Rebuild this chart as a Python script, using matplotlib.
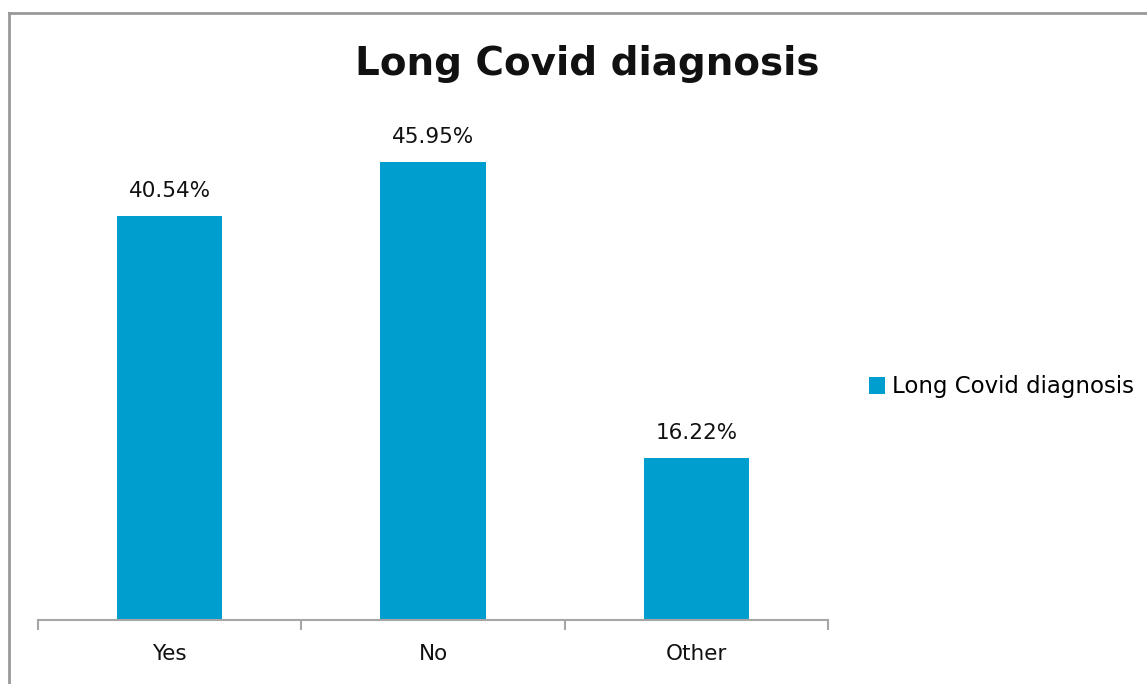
import matplotlib
matplotlib.use("Agg")
import matplotlib.pyplot as plt
from matplotlib.lines import Line2D
from matplotlib.patches import Patch

categories = ["Yes", "No", "Other"]
values = [40.54, 45.95, 16.22]
series_name = "Long Covid diagnosis"
title = "Long Covid diagnosis"

W, H = 1147, 684
fig = plt.figure(figsize=(W / 100, H / 100), dpi=100)
plt.rcParams['font.family'] = ['DejaVu Sans']

bar_color = "#009DCF"
axis_color = "#A6A6A6"

# plot area in pixel terms
left, right, base, top = 38, 828, 620, 122
ax = fig.add_axes([left / W, (H - base) / H, (right - left) / W, (base - top) / H])

x = range(len(categories))
bars = ax.bar(x, values, width=0.4, color=bar_color)
ax.set_xlim(-0.5, len(categories) - 0.5)
ax.set_ylim(0, 50)

for b, v in zip(bars, values):
    ax.annotate(f"{v:.2f}%", (b.get_x() + b.get_width() / 2, v),
                xytext=(0, 11), textcoords="offset points",
                ha="center", va="bottom", fontsize=15.5, color="#111111")

for s in ["top", "right", "left"]:
    ax.spines[s].set_visible(False)
ax.spines["bottom"].set_color(axis_color)
ax.spines["bottom"].set_linewidth(1.5)
ax.set_yticks([])

# boundary ticks between categories, labels centred under bars
ax.set_xticks([i - 0.5 for i in range(len(categories) + 1)])
ax.set_xticklabels([])
ax.tick_params(axis="x", which="major", length=7, width=1.5, color=axis_color)
ax.set_xticks(list(x), minor=True)
ax.set_xticklabels(categories, minor=True, fontsize=15.5, color="#111111")
ax.tick_params(axis="x", which="minor", length=0, pad=17)

fig.text(587 / W, 1 - 64 / H, title, ha="center", va="center",
         fontsize=28, fontweight="bold", color="#111111")

handle = Patch(facecolor=bar_color, edgecolor="none")
fig.legend([handle], [series_name], loc="center left",
           bbox_to_anchor=(860 / W, 1 - 387 / H), frameon=False,
           fontsize=16.5, handlelength=0.7, handleheight=0.7,
           handletextpad=0.3, borderaxespad=0)

# frame lines along the top and left edges
fig.add_artist(Line2D([8.5 / W, 1], [1 - 12.5 / H, 1 - 12.5 / H],
                      transform=fig.transFigure, color="#999999", lw=2))
fig.add_artist(Line2D([8.5 / W, 8.5 / W], [0, 1 - 12.5 / H],
                      transform=fig.transFigure, color="#999999", lw=2))

fig.savefig("out.png", dpi=100, facecolor="white")
